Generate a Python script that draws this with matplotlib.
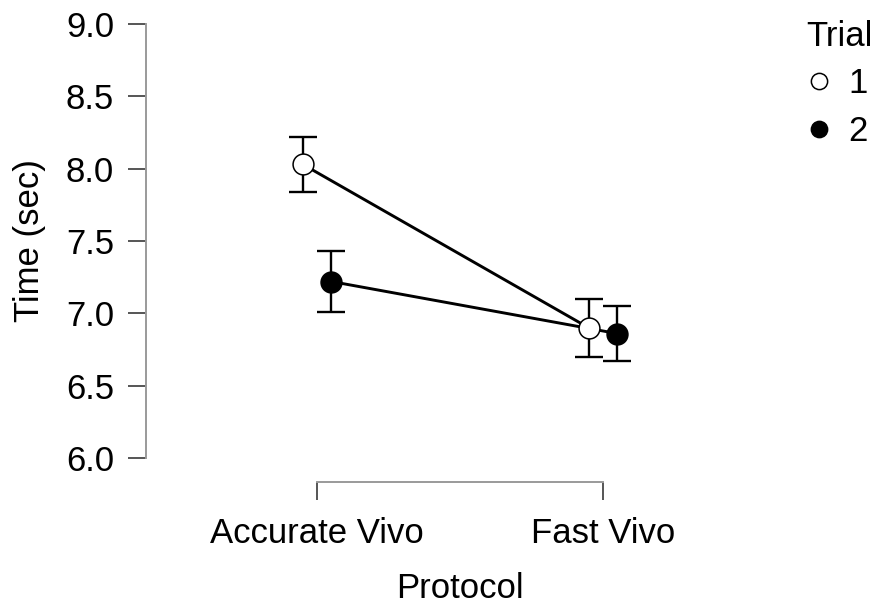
import matplotlib
matplotlib.use("Agg")
import matplotlib.pyplot as plt
import numpy as np

plt.rcParams['font.family'] = ['Liberation Sans', 'DejaVu Sans']

# Descriptive means and 95% CI half-widths per protocol and trial
protocols = ["Accurate Vivo", "Fast Vivo"]
trials = ["1", "2"]
means_trial1 = [8.03, 6.90]
ci_trial1 = [0.19, 0.20]
means_trial2 = [7.22, 6.86]
ci_trial2 = [0.21, 0.19]
y_ticks = [6.0, 6.5, 7.0, 7.5, 8.0, 8.5, 9.0]

fs = 25

fig = plt.figure(figsize=(8.8, 6.05), dpi=100)
ax = fig.add_axes([146 / 880, 147 / 605, 628 / 880, 434 / 605])

x = np.arange(len(protocols))
dodge = 0.05
series = [
    (means_trial1, ci_trial1, "white", -dodge),
    (means_trial2, ci_trial2, "black", dodge),
]

for (means, ci, face, shift), label in zip(series, trials):
    xs = x + shift
    ax.errorbar(xs, means, yerr=ci, fmt="none", ecolor="black",
                elinewidth=1.7, capsize=10.4, capthick=1.7, zorder=2)
    ax.plot(xs, means, color="black", linewidth=2.1, zorder=3)
    ax.plot(xs, means, linestyle="none", marker="o", markersize=15,
            markerfacecolor=face, markeredgecolor="black",
            markeredgewidth=1.1, zorder=4, label=label)

ax.set_xlim(-0.598, 1.598)
ax.set_ylim(6.0, 9.0)
ax.set_xticks(x)
ax.set_xticklabels(protocols)
ax.set_yticks(y_ticks)
ax.set_yticklabels([f"{v:.1f}" for v in y_ticks])

for side in ["top", "right"]:
    ax.spines[side].set_visible(False)
ax.spines["bottom"].set_position(("outward", 17.3))
ax.spines["bottom"].set_bounds(0, 1)
ax.spines["left"].set_bounds(6.0, 9.0)
for side in ["bottom", "left"]:
    ax.spines[side].set_color("#9a9a9a")
    ax.spines[side].set_linewidth(1.4)

ax.tick_params(axis="both", colors="#555555", width=1.4, length=13,
               labelsize=fs, labelcolor="black")
ax.tick_params(axis="x", pad=12)
ax.tick_params(axis="y", pad=10)

ax.set_xlabel("Protocol", fontsize=fs, labelpad=16)
ax.set_ylabel("Time (sec)", fontsize=fs, labelpad=14)

leg = ax.legend(title="Trial", loc="upper left", bbox_to_anchor=(798 / 880, 0.982),
                bbox_transform=fig.transFigure, frameon=False, fontsize=fs,
                title_fontsize=fs, markerscale=0.78, handlelength=0.7,
                handletextpad=0.5, labelspacing=0.42, borderpad=0.25,
                borderaxespad=0)
leg._legend_box.align = "left"

fig.savefig("out.png", dpi=100)
